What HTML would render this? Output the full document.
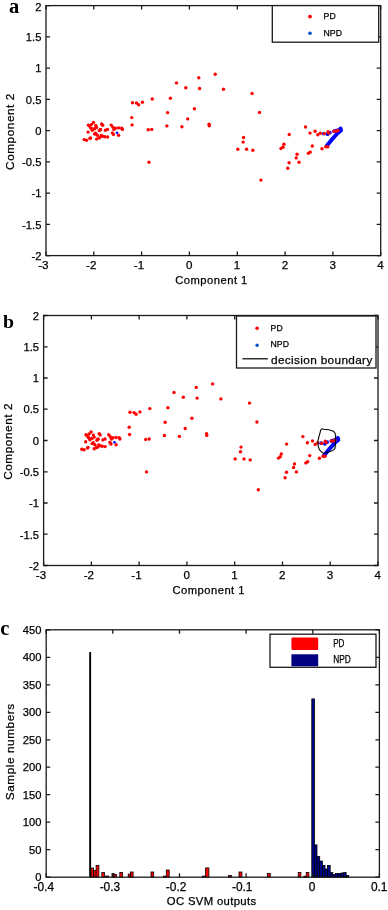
<!DOCTYPE html><html><head><meta charset="utf-8"><style>html,body{margin:0;padding:0;background:#fff;}svg{display:block;filter:blur(0.4px);font-family:"Liberation Sans", sans-serif;} text{stroke:#000;stroke-width:0.25px;} .sf{stroke:none;}</style></head><body>
<svg width="388" height="910" viewBox="0 0 388 910">
<rect width="388" height="910" fill="#fff"/>
<g fill="#ff0000"><circle cx="93.5" cy="122.4" r="1.7"/><circle cx="88.4" cy="125.1" r="1.7"/><circle cx="91.5" cy="124.4" r="1.7"/><circle cx="95.8" cy="125.5" r="1.7"/><circle cx="96.6" cy="127.5" r="1.7"/><circle cx="101.6" cy="124.0" r="1.7"/><circle cx="102.7" cy="125.3" r="1.7"/><circle cx="90.8" cy="127.9" r="1.7"/><circle cx="92.3" cy="130.2" r="1.7"/><circle cx="88.1" cy="132.1" r="1.7"/><circle cx="99.3" cy="130.6" r="1.7"/><circle cx="100.4" cy="129.4" r="1.7"/><circle cx="107.5" cy="129.4" r="1.7"/><circle cx="94.6" cy="134.0" r="1.7"/><circle cx="97.3" cy="135.2" r="1.7"/><circle cx="101.2" cy="135.4" r="1.7"/><circle cx="98.9" cy="137.9" r="1.7"/><circle cx="104.7" cy="136.7" r="1.7"/><circle cx="107.6" cy="137.0" r="1.7"/><circle cx="90.4" cy="137.9" r="1.7"/><circle cx="84.2" cy="139.6" r="1.7"/><circle cx="96.6" cy="139.1" r="1.7"/><circle cx="89.9" cy="138.4" r="1.7"/><circle cx="91.9" cy="128.8" r="1.7"/><circle cx="105.4" cy="130.3" r="1.7"/><circle cx="111.2" cy="125.1" r="1.7"/><circle cx="112.8" cy="127.1" r="1.7"/><circle cx="115.5" cy="128.2" r="1.7"/><circle cx="118.6" cy="127.9" r="1.7"/><circle cx="121.7" cy="128.2" r="1.7"/><circle cx="122.4" cy="129.4" r="1.7"/><circle cx="113.9" cy="129.4" r="1.7"/><circle cx="112.4" cy="132.9" r="1.7"/><circle cx="113.5" cy="134.4" r="1.7"/><circle cx="118.6" cy="135.2" r="1.7"/><circle cx="100.4" cy="129.8" r="1.7"/><circle cx="86.5" cy="140.2" r="1.7"/><circle cx="95.6" cy="133.2" r="1.7"/><circle cx="99.8" cy="137.6" r="1.7"/><circle cx="102.6" cy="136.2" r="1.7"/><circle cx="94.5" cy="128.8" r="1.7"/><circle cx="89.3" cy="126.0" r="1.7"/><circle cx="132.5" cy="102.7" r="1.7"/><circle cx="136.5" cy="103.0" r="1.7"/><circle cx="138.6" cy="104.7" r="1.7"/><circle cx="142.4" cy="102.3" r="1.7"/><circle cx="152.3" cy="99.0" r="1.7"/><circle cx="170.4" cy="98.2" r="1.7"/><circle cx="167.6" cy="112.6" r="1.7"/><circle cx="131.7" cy="117.6" r="1.7"/><circle cx="132.1" cy="124.9" r="1.7"/><circle cx="148.2" cy="129.8" r="1.7"/><circle cx="151.7" cy="129.4" r="1.7"/><circle cx="166.9" cy="125.9" r="1.7"/><circle cx="149.0" cy="162.3" r="1.7"/><circle cx="176.5" cy="82.9" r="1.7"/><circle cx="185.8" cy="87.7" r="1.7"/><circle cx="198.8" cy="77.8" r="1.7"/><circle cx="199.6" cy="88.5" r="1.7"/><circle cx="215.2" cy="74.3" r="1.7"/><circle cx="223.5" cy="89.3" r="1.7"/><circle cx="252.1" cy="93.5" r="1.7"/><circle cx="194.4" cy="108.7" r="1.7"/><circle cx="187.7" cy="118.9" r="1.7"/><circle cx="181.9" cy="126.8" r="1.7"/><circle cx="209.1" cy="124.2" r="1.7"/><circle cx="209.3" cy="125.8" r="1.7"/><circle cx="259.5" cy="112.4" r="1.7"/><circle cx="243.6" cy="137.5" r="1.7"/><circle cx="243.1" cy="142.1" r="1.7"/><circle cx="237.8" cy="149.3" r="1.7"/><circle cx="246.6" cy="149.3" r="1.7"/><circle cx="252.8" cy="150.3" r="1.7"/><circle cx="260.9" cy="180.1" r="1.7"/><circle cx="289.2" cy="134.5" r="1.7"/><circle cx="283.9" cy="144.3" r="1.7"/><circle cx="282.9" cy="147.2" r="1.7"/><circle cx="281.0" cy="148.5" r="1.7"/><circle cx="297.1" cy="154.3" r="1.7"/><circle cx="296.2" cy="157.9" r="1.7"/><circle cx="289.1" cy="162.7" r="1.7"/><circle cx="299.0" cy="162.3" r="1.7"/><circle cx="287.7" cy="168.2" r="1.7"/><circle cx="312.3" cy="146.0" r="1.7"/><circle cx="310.3" cy="152.1" r="1.7"/><circle cx="308.4" cy="153.3" r="1.7"/><circle cx="305.5" cy="127.0" r="1.7"/><circle cx="310.0" cy="133.1" r="1.7"/><circle cx="315.1" cy="131.3" r="1.7"/><circle cx="317.8" cy="134.8" r="1.7"/></g><polyline points="340.6,128.4 341.0,130.4 337.8,133.0 334.6,136.5 331.2,140.4 328.4,143.8 326.6,146.0" fill="none" stroke="#0000ff" stroke-width="3.9" stroke-linecap="round" stroke-linejoin="round"/><polyline points="334.0,131.3 340.5,129.5" fill="none" stroke="#0000ff" stroke-width="3.6" stroke-linecap="round"/><g fill="#0000ff"><circle cx="117.0" cy="132.7" r="1.3"/><circle cx="327.6" cy="134.2" r="1.9"/><circle cx="329.8" cy="132.6" r="1.9"/><circle cx="323.8" cy="133.6" r="1.9"/></g><g fill="#ff0000"><circle cx="320.3" cy="133.2" r="1.7"/><circle cx="324.3" cy="133.6" r="1.7"/><circle cx="328.0" cy="131.7" r="1.7"/><circle cx="328.8" cy="133.0" r="1.7"/><circle cx="334.0" cy="131.3" r="1.7"/><circle cx="336.3" cy="131.3" r="1.7"/><circle cx="337.8" cy="130.5" r="1.7"/><circle cx="325.8" cy="146.7" r="1.7"/><circle cx="327.8" cy="146.7" r="1.7"/><circle cx="322.0" cy="148.7" r="1.7"/></g>
<path d="M46.0 255.6v-4.0M46.0 5.6v4.0M93.8 255.6v-4.0M93.8 5.6v4.0M141.6 255.6v-4.0M141.6 5.6v4.0M189.4 255.6v-4.0M189.4 5.6v4.0M237.3 255.6v-4.0M237.3 5.6v4.0M285.1 255.6v-4.0M285.1 5.6v4.0M332.9 255.6v-4.0M332.9 5.6v4.0M380.7 255.6v-4.0M380.7 5.6v4.0M46.0 5.6h4.0M380.7 5.6h-4.0M46.0 36.9h4.0M380.7 36.9h-4.0M46.0 68.1h4.0M380.7 68.1h-4.0M46.0 99.3h4.0M380.7 99.3h-4.0M46.0 130.6h4.0M380.7 130.6h-4.0M46.0 161.8h4.0M380.7 161.8h-4.0M46.0 193.1h4.0M380.7 193.1h-4.0M46.0 224.3h4.0M380.7 224.3h-4.0M46.0 255.6h4.0M380.7 255.6h-4.0" stroke="#1a1a1a" stroke-width="1.3" fill="none"/><text x="41.4" y="10.5" text-anchor="end" font-size="11.2" >2</text><text x="41.4" y="41.1" text-anchor="end" font-size="11.2" >1.5</text><text x="41.4" y="72.3" text-anchor="end" font-size="11.2" >1</text><text x="41.4" y="103.5" text-anchor="end" font-size="11.2" >0.5</text><text x="41.4" y="134.8" text-anchor="end" font-size="11.2" >0</text><text x="41.4" y="166.0" text-anchor="end" font-size="11.2" >-0.5</text><text x="41.4" y="197.3" text-anchor="end" font-size="11.2" >-1</text><text x="41.4" y="228.5" text-anchor="end" font-size="11.2" >-1.5</text><text x="41.4" y="259.8" text-anchor="end" font-size="11.2" >-2</text><text x="43.4" y="268.6" text-anchor="middle" font-size="11.6" >-3</text><text x="91.2" y="268.6" text-anchor="middle" font-size="11.6" >-2</text><text x="139.0" y="268.6" text-anchor="middle" font-size="11.6" >-1</text><text x="189.2" y="268.6" text-anchor="middle" font-size="11.6" >0</text><text x="237.1" y="268.6" text-anchor="middle" font-size="11.6" >1</text><text x="284.9" y="268.6" text-anchor="middle" font-size="11.6" >2</text><text x="332.7" y="268.6" text-anchor="middle" font-size="11.6" >3</text><text x="380.5" y="268.6" text-anchor="middle" font-size="11.6" >4</text>
<rect x="46.0" y="5.6" width="334.7" height="250.0" fill="none" stroke="#1a1a1a" stroke-width="1.3"/>
<rect x="272.3" y="5.6" width="106.4" height="36.6" fill="#fff" stroke="#1a1a1a" stroke-width="1.3"/>
<circle cx="310" cy="16.6" r="1.9" fill="#ff0000"/>
<circle cx="310" cy="33.3" r="1.8" fill="#0050c8"/>
<text x="323.6" y="19.3" text-anchor="start" font-size="8.7" >PD</text>
<text x="323.6" y="35.6" text-anchor="start" font-size="8.7" >NPD</text>
<text x="211.3" y="284.3" text-anchor="middle" font-size="11.2" textLength="72" lengthAdjust="spacing">Component 1</text>
<text transform="translate(14.3,131.8) rotate(-90)" text-anchor="middle" font-size="11.8" textLength="76.3" lengthAdjust="spacing">Component 2</text>
<text class="sf" x="9.0" y="12.6" font-family='"Liberation Serif", serif' font-weight="bold" font-size="20.5">a</text>
<g fill="#ff0000"><circle cx="91.1" cy="432.0" r="1.7"/><circle cx="86.0" cy="434.7" r="1.7"/><circle cx="89.1" cy="434.0" r="1.7"/><circle cx="93.4" cy="435.1" r="1.7"/><circle cx="94.2" cy="437.1" r="1.7"/><circle cx="99.2" cy="433.6" r="1.7"/><circle cx="100.2" cy="434.9" r="1.7"/><circle cx="88.4" cy="437.5" r="1.7"/><circle cx="89.9" cy="439.8" r="1.7"/><circle cx="85.7" cy="441.7" r="1.7"/><circle cx="96.9" cy="440.2" r="1.7"/><circle cx="98.0" cy="439.0" r="1.7"/><circle cx="105.0" cy="439.0" r="1.7"/><circle cx="92.2" cy="443.6" r="1.7"/><circle cx="94.9" cy="444.8" r="1.7"/><circle cx="98.8" cy="445.0" r="1.7"/><circle cx="96.5" cy="447.5" r="1.7"/><circle cx="102.2" cy="446.3" r="1.7"/><circle cx="105.1" cy="446.6" r="1.7"/><circle cx="88.0" cy="447.5" r="1.7"/><circle cx="81.8" cy="449.2" r="1.7"/><circle cx="94.2" cy="448.7" r="1.7"/><circle cx="87.5" cy="448.0" r="1.7"/><circle cx="89.5" cy="438.4" r="1.7"/><circle cx="102.9" cy="439.9" r="1.7"/><circle cx="108.7" cy="434.7" r="1.7"/><circle cx="110.3" cy="436.7" r="1.7"/><circle cx="113.0" cy="437.8" r="1.7"/><circle cx="116.1" cy="437.5" r="1.7"/><circle cx="119.2" cy="437.8" r="1.7"/><circle cx="119.9" cy="439.0" r="1.7"/><circle cx="111.4" cy="439.0" r="1.7"/><circle cx="109.9" cy="442.5" r="1.7"/><circle cx="111.0" cy="444.0" r="1.7"/><circle cx="116.1" cy="444.8" r="1.7"/><circle cx="98.0" cy="439.4" r="1.7"/><circle cx="84.1" cy="449.8" r="1.7"/><circle cx="93.2" cy="442.8" r="1.7"/><circle cx="97.4" cy="447.2" r="1.7"/><circle cx="100.1" cy="445.8" r="1.7"/><circle cx="92.1" cy="438.4" r="1.7"/><circle cx="86.9" cy="435.6" r="1.7"/><circle cx="130.0" cy="412.3" r="1.7"/><circle cx="134.0" cy="412.6" r="1.7"/><circle cx="136.1" cy="414.3" r="1.7"/><circle cx="139.9" cy="411.9" r="1.7"/><circle cx="149.8" cy="408.6" r="1.7"/><circle cx="167.9" cy="407.8" r="1.7"/><circle cx="165.1" cy="422.2" r="1.7"/><circle cx="129.2" cy="427.2" r="1.7"/><circle cx="129.6" cy="434.5" r="1.7"/><circle cx="145.7" cy="439.4" r="1.7"/><circle cx="149.2" cy="439.0" r="1.7"/><circle cx="164.4" cy="435.5" r="1.7"/><circle cx="146.5" cy="471.9" r="1.7"/><circle cx="174.0" cy="392.5" r="1.7"/><circle cx="183.3" cy="397.3" r="1.7"/><circle cx="196.3" cy="387.4" r="1.7"/><circle cx="197.1" cy="398.1" r="1.7"/><circle cx="212.6" cy="383.9" r="1.7"/><circle cx="220.9" cy="398.9" r="1.7"/><circle cx="249.5" cy="403.1" r="1.7"/><circle cx="191.9" cy="418.3" r="1.7"/><circle cx="185.2" cy="428.5" r="1.7"/><circle cx="179.4" cy="436.4" r="1.7"/><circle cx="206.6" cy="433.8" r="1.7"/><circle cx="206.8" cy="435.4" r="1.7"/><circle cx="256.9" cy="422.0" r="1.7"/><circle cx="241.0" cy="447.1" r="1.7"/><circle cx="240.5" cy="451.7" r="1.7"/><circle cx="235.2" cy="458.9" r="1.7"/><circle cx="244.0" cy="458.9" r="1.7"/><circle cx="250.2" cy="459.9" r="1.7"/><circle cx="258.3" cy="489.7" r="1.7"/><circle cx="286.6" cy="444.1" r="1.7"/><circle cx="281.3" cy="453.9" r="1.7"/><circle cx="280.3" cy="456.8" r="1.7"/><circle cx="278.4" cy="458.1" r="1.7"/><circle cx="294.5" cy="463.9" r="1.7"/><circle cx="293.6" cy="467.5" r="1.7"/><circle cx="286.5" cy="472.3" r="1.7"/><circle cx="296.4" cy="471.9" r="1.7"/><circle cx="285.1" cy="477.8" r="1.7"/><circle cx="309.7" cy="455.6" r="1.7"/><circle cx="307.7" cy="461.7" r="1.7"/><circle cx="305.8" cy="462.9" r="1.7"/><circle cx="302.9" cy="436.6" r="1.7"/><circle cx="307.4" cy="442.7" r="1.7"/><circle cx="312.5" cy="440.9" r="1.7"/><circle cx="315.2" cy="444.4" r="1.7"/></g><polyline points="337.9,438.0 338.3,440.0 335.1,442.6 331.9,446.1 328.5,450.0 325.7,453.4 323.9,455.6" fill="none" stroke="#0000ff" stroke-width="3.9" stroke-linecap="round" stroke-linejoin="round"/><polyline points="331.3,440.9 337.8,439.1" fill="none" stroke="#0000ff" stroke-width="3.6" stroke-linecap="round"/><g fill="#0000ff"><circle cx="114.5" cy="442.3" r="1.3"/><circle cx="324.9" cy="443.8" r="1.9"/><circle cx="327.1" cy="442.2" r="1.9"/><circle cx="321.2" cy="443.2" r="1.9"/></g><g fill="#ff0000"><circle cx="317.7" cy="442.8" r="1.7"/><circle cx="321.7" cy="443.2" r="1.7"/><circle cx="325.3" cy="441.3" r="1.7"/><circle cx="326.1" cy="442.6" r="1.7"/><circle cx="331.3" cy="440.9" r="1.7"/><circle cx="333.6" cy="440.9" r="1.7"/><circle cx="335.1" cy="440.1" r="1.7"/><circle cx="323.1" cy="456.3" r="1.7"/><circle cx="325.1" cy="456.3" r="1.7"/><circle cx="319.4" cy="458.3" r="1.7"/></g>
<polygon points="322.4,428.7 320.7,430.1 319.8,433.6 318.7,437.6 317.8,441.7 318.3,446.9 319.5,449.8 322.4,452.7 324.7,453.3 328.2,451.9 332.8,450.4 334.9,448.6 335.4,444.6 335.4,439.9 335.7,435.3 334.6,432.4 332.8,431 328.8,429.8 323.6,429.2" fill="none" stroke="#000" stroke-width="1.1" stroke-linejoin="round"/>
<path d="M43.6 565.5v-4.0M43.6 315.5v4.0M91.4 565.5v-4.0M91.4 315.5v4.0M139.1 565.5v-4.0M139.1 315.5v4.0M186.9 565.5v-4.0M186.9 315.5v4.0M234.7 565.5v-4.0M234.7 315.5v4.0M282.5 565.5v-4.0M282.5 315.5v4.0M330.2 565.5v-4.0M330.2 315.5v4.0M378.0 565.5v-4.0M378.0 315.5v4.0M43.6 315.5h4.0M378.0 315.5h-4.0M43.6 346.8h4.0M378.0 346.8h-4.0M43.6 378.0h4.0M378.0 378.0h-4.0M43.6 409.2h4.0M378.0 409.2h-4.0M43.6 440.5h4.0M378.0 440.5h-4.0M43.6 471.8h4.0M378.0 471.8h-4.0M43.6 503.0h4.0M378.0 503.0h-4.0M43.6 534.2h4.0M378.0 534.2h-4.0M43.6 565.5h4.0M378.0 565.5h-4.0" stroke="#1a1a1a" stroke-width="1.3" fill="none"/><text x="39.0" y="320.4" text-anchor="end" font-size="11.2" >2</text><text x="39.0" y="350.9" text-anchor="end" font-size="11.2" >1.5</text><text x="39.0" y="382.2" text-anchor="end" font-size="11.2" >1</text><text x="39.0" y="413.4" text-anchor="end" font-size="11.2" >0.5</text><text x="39.0" y="444.7" text-anchor="end" font-size="11.2" >0</text><text x="39.0" y="475.9" text-anchor="end" font-size="11.2" >-0.5</text><text x="39.0" y="507.2" text-anchor="end" font-size="11.2" >-1</text><text x="39.0" y="538.5" text-anchor="end" font-size="11.2" >-1.5</text><text x="39.0" y="569.7" text-anchor="end" font-size="11.2" >-2</text><text x="41.0" y="578.5" text-anchor="middle" font-size="11.6" >-3</text><text x="88.8" y="578.5" text-anchor="middle" font-size="11.6" >-2</text><text x="136.5" y="578.5" text-anchor="middle" font-size="11.6" >-1</text><text x="186.7" y="578.5" text-anchor="middle" font-size="11.6" >0</text><text x="234.5" y="578.5" text-anchor="middle" font-size="11.6" >1</text><text x="282.3" y="578.5" text-anchor="middle" font-size="11.6" >2</text><text x="330.0" y="578.5" text-anchor="middle" font-size="11.6" >3</text><text x="377.8" y="578.5" text-anchor="middle" font-size="11.6" >4</text>
<rect x="43.6" y="315.5" width="334.4" height="250.0" fill="none" stroke="#1a1a1a" stroke-width="1.3"/>
<rect x="236.5" y="316" width="139.5" height="52" fill="#fff" stroke="#1a1a1a" stroke-width="1.3"/>
<circle cx="257.1" cy="328.2" r="1.8" fill="#ff0000"/>
<circle cx="257.1" cy="345.3" r="1.7" fill="#0050c8"/>
<text x="270.6" y="331.2" text-anchor="start" font-size="8.7" >PD</text>
<text x="270.6" y="346.8" text-anchor="start" font-size="8.7" >NPD</text>
<line x1="242.4" y1="358.8" x2="267.9" y2="358.8" stroke="#000" stroke-width="1.2"/>
<text x="271.0" y="363.6" text-anchor="start" font-size="11.8" textLength="101.3" lengthAdjust="spacing">decision boundary</text>
<text x="208.5" y="594.3" text-anchor="middle" font-size="11.2" textLength="72" lengthAdjust="spacing">Component 1</text>
<text transform="translate(12.0,441.7) rotate(-90)" text-anchor="middle" font-size="11.8" textLength="76.3" lengthAdjust="spacing">Component 2</text>
<text class="sf" x="3.1" y="328.2" font-family='"Liberation Serif", serif' font-weight="bold" font-size="19.8">b</text>
<rect x="91.0" y="868.0" width="2.5" height="9.2" fill="#ff0000" stroke="#000" stroke-width="0.8"/><rect x="93.5" y="870.4" width="2.6" height="6.8" fill="#ff0000" stroke="#000" stroke-width="0.8"/><rect x="96.1" y="865.5" width="2.8" height="11.7" fill="#ff0000" stroke="#000" stroke-width="0.8"/><rect x="101.8" y="872.6" width="2.6" height="4.6" fill="#ff0000" stroke="#000" stroke-width="0.8"/><rect x="105.6" y="876.0" width="2.9" height="1.2" fill="#ff0000" stroke="#000" stroke-width="0.8"/><rect x="112.0" y="873.6" width="2.0" height="3.6" fill="#ff0000" stroke="#000" stroke-width="0.8"/><rect x="114.0" y="874.6" width="2.4" height="2.6" fill="#ff0000" stroke="#000" stroke-width="0.8"/><rect x="119.8" y="872.4" width="2.7" height="4.8" fill="#ff0000" stroke="#000" stroke-width="0.8"/><rect x="128.2" y="874.1" width="2.3" height="3.1" fill="#ff0000" stroke="#000" stroke-width="0.8"/><rect x="130.5" y="872.0" width="2.6" height="5.2" fill="#ff0000" stroke="#000" stroke-width="0.8"/><rect x="151.0" y="872.0" width="2.7" height="5.2" fill="#ff0000" stroke="#000" stroke-width="0.8"/><rect x="163.4" y="876.1" width="2.8" height="1.1" fill="#ff0000" stroke="#000" stroke-width="0.8"/><rect x="166.3" y="870.0" width="2.9" height="7.2" fill="#ff0000" stroke="#000" stroke-width="0.8"/><rect x="202.2" y="876.1" width="3.3" height="1.1" fill="#ff0000" stroke="#000" stroke-width="0.8"/><rect x="205.6" y="867.9" width="3.3" height="9.3" fill="#ff0000" stroke="#000" stroke-width="0.8"/><rect x="228.4" y="875.6" width="3.2" height="1.6" fill="#ff0000" stroke="#000" stroke-width="0.8"/><rect x="239.0" y="872.0" width="2.9" height="5.2" fill="#ff0000" stroke="#000" stroke-width="0.8"/><rect x="267.3" y="873.6" width="2.9" height="3.6" fill="#ff0000" stroke="#000" stroke-width="0.8"/><rect x="298.2" y="872.6" width="2.7" height="4.6" fill="#ff0000" stroke="#000" stroke-width="0.8"/><rect x="303.8" y="876.2" width="2.4" height="1.0" fill="#ff0000" stroke="#000" stroke-width="0.8"/><rect x="306.2" y="872.5" width="2.7" height="4.7" fill="#ff0000" stroke="#000" stroke-width="0.8"/><rect x="311.8" y="698.9" width="2.7" height="178.3" fill="#000090" stroke="#000" stroke-width="0.8"/><rect x="314.5" y="844.9" width="2.5" height="32.3" fill="#000090" stroke="#000" stroke-width="0.8"/><rect x="317.0" y="856.4" width="2.7" height="20.8" fill="#000090" stroke="#000" stroke-width="0.8"/><rect x="319.7" y="861.0" width="2.7" height="16.2" fill="#000090" stroke="#000" stroke-width="0.8"/><rect x="322.4" y="865.6" width="2.6" height="11.6" fill="#000090" stroke="#000" stroke-width="0.8"/><rect x="325.0" y="869.0" width="2.5" height="8.2" fill="#000090" stroke="#000" stroke-width="0.8"/><rect x="327.5" y="865.4" width="2.7" height="11.8" fill="#000090" stroke="#000" stroke-width="0.8"/><rect x="330.2" y="872.5" width="2.6" height="4.7" fill="#000090" stroke="#000" stroke-width="0.8"/><rect x="332.8" y="874.6" width="2.6" height="2.6" fill="#000090" stroke="#000" stroke-width="0.8"/><rect x="335.4" y="873.5" width="2.8" height="3.7" fill="#000090" stroke="#000" stroke-width="0.8"/><rect x="338.2" y="873.5" width="2.8" height="3.7" fill="#000090" stroke="#000" stroke-width="0.8"/><rect x="341.0" y="873.0" width="2.6" height="4.2" fill="#000090" stroke="#000" stroke-width="0.8"/><rect x="343.6" y="872.5" width="2.5" height="4.7" fill="#000090" stroke="#000" stroke-width="0.8"/><rect x="346.1" y="875.6" width="2.6" height="1.6" fill="#000090" stroke="#000" stroke-width="0.8"/>
<rect x="89.2" y="652" width="1.9" height="225.2" fill="#000"/>
<path d="M46.2 877.2v-4.0M46.2 629.8v4.0M112.8 877.2v-4.0M112.8 629.8v4.0M179.5 877.2v-4.0M179.5 629.8v4.0M246.1 877.2v-4.0M246.1 629.8v4.0M312.8 877.2v-4.0M312.8 629.8v4.0M379.4 877.2v-4.0M379.4 629.8v4.0M46.2 629.8h4.0M379.4 629.8h-4.0M46.2 657.3h4.0M379.4 657.3h-4.0M46.2 684.8h4.0M379.4 684.8h-4.0M46.2 712.3h4.0M379.4 712.3h-4.0M46.2 739.8h4.0M379.4 739.8h-4.0M46.2 767.2h4.0M379.4 767.2h-4.0M46.2 794.7h4.0M379.4 794.7h-4.0M46.2 822.2h4.0M379.4 822.2h-4.0M46.2 849.7h4.0M379.4 849.7h-4.0M46.2 877.2h4.0M379.4 877.2h-4.0" stroke="#1a1a1a" stroke-width="1.3" fill="none"/>
<rect x="46.2" y="629.8" width="333.2" height="247.4000000000001" fill="none" stroke="#1a1a1a" stroke-width="1.3"/>
<text x="41.5" y="633.7" text-anchor="end" font-size="11.2" >450</text>
<text x="41.5" y="661.2" text-anchor="end" font-size="11.2" >400</text>
<text x="41.5" y="688.7" text-anchor="end" font-size="11.2" >350</text>
<text x="41.5" y="716.2" text-anchor="end" font-size="11.2" >300</text>
<text x="41.5" y="743.7" text-anchor="end" font-size="11.2" >250</text>
<text x="41.5" y="771.1" text-anchor="end" font-size="11.2" >200</text>
<text x="41.5" y="798.6" text-anchor="end" font-size="11.2" >150</text>
<text x="41.5" y="826.1" text-anchor="end" font-size="11.2" >100</text>
<text x="41.5" y="853.6" text-anchor="end" font-size="11.2" >50</text>
<text x="41.5" y="881.1" text-anchor="end" font-size="11.2" >0</text>
<text x="43.8" y="891.1" text-anchor="middle" font-size="11.9" >-0.4</text>
<text x="109.9" y="891.1" text-anchor="middle" font-size="11.9" >-0.3</text>
<text x="176.1" y="891.1" text-anchor="middle" font-size="11.9" >-0.2</text>
<text x="242.2" y="891.1" text-anchor="middle" font-size="11.9" >-0.1</text>
<text x="312.0" y="891.1" text-anchor="middle" font-size="11.9" >0</text>
<text x="379.2" y="891.1" text-anchor="middle" font-size="11.9" >0.1</text>
<text x="211.4" y="904.6" text-anchor="middle" font-size="11.3" textLength="89.3" lengthAdjust="spacing">OC SVM outputs</text>
<text transform="translate(14.3,752.0) rotate(-90)" text-anchor="middle" font-size="11.8" textLength="96.5" lengthAdjust="spacing">Sample numbers</text>
<text class="sf" x="0.3" y="634.7" font-family='"Liberation Serif", serif' font-weight="bold" font-size="20.5">c</text>
<rect x="270" y="634.2" width="106" height="33.1" fill="#fff" stroke="#1a1a1a" stroke-width="1.3"/>
<rect x="291.4" y="637.6" width="26.8" height="12.4" rx="1.3" fill="#ff0000"/>
<rect x="291.4" y="654.3" width="26.8" height="12.0" fill="#000080"/>
<text x="333.2" y="647.1" text-anchor="start" font-size="10" textLength="11.2" lengthAdjust="spacingAndGlyphs">PD</text>
<text x="333.2" y="663.2" text-anchor="start" font-size="10" textLength="17.6" lengthAdjust="spacingAndGlyphs">NPD</text>
</svg></body></html>
